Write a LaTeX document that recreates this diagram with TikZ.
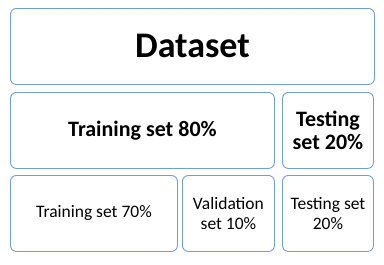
\documentclass[tikz,border=0pt]{standalone}
\usepackage{fontspec}
\setmainfont{Carlito}
\usepackage{xcolor}
\usetikzlibrary{positioning}
\definecolor{splitblue}{RGB}{110,160,215}

\begin{document}
\begin{tikzpicture}[x=1pt, y=-1pt, node distance=8pt,
  splitbox/.style={draw=splitblue, line width=0.9pt, rounded corners=6pt, align=center, anchor=north west, inner sep=0pt, minimum height=76pt},
  bigtext/.style={font=\bfseries\fontsize{22}{23}\selectfont},
  smalltext/.style={font=\fontsize{17.5}{20}\selectfont}]
  \useasboundingbox[fill=white] (0,0) rectangle (384,265);
  \node[splitbox, minimum width=364pt, font=\bfseries\fontsize{36}{40}\selectfont] (data) at (10,8) {Dataset};
  \node[splitbox, bigtext, minimum width=264pt] (train) at (10,92) {Training set 80\%};
  \node[splitbox, bigtext, minimum width=91pt] (test) at (282,92) {Testing\\set 20\%};
  \node[splitbox, smalltext, minimum width=167pt] (trainsub) at (10,175) {Training set 70\%};
  \node[splitbox, smalltext, minimum width=92pt] (valid) at (182,175) {Validation\\set 10\%};
  \node[splitbox, smalltext, minimum width=91pt] (testsub) at (282,175) {Testing set\\20\%};
\end{tikzpicture}
\end{document}
